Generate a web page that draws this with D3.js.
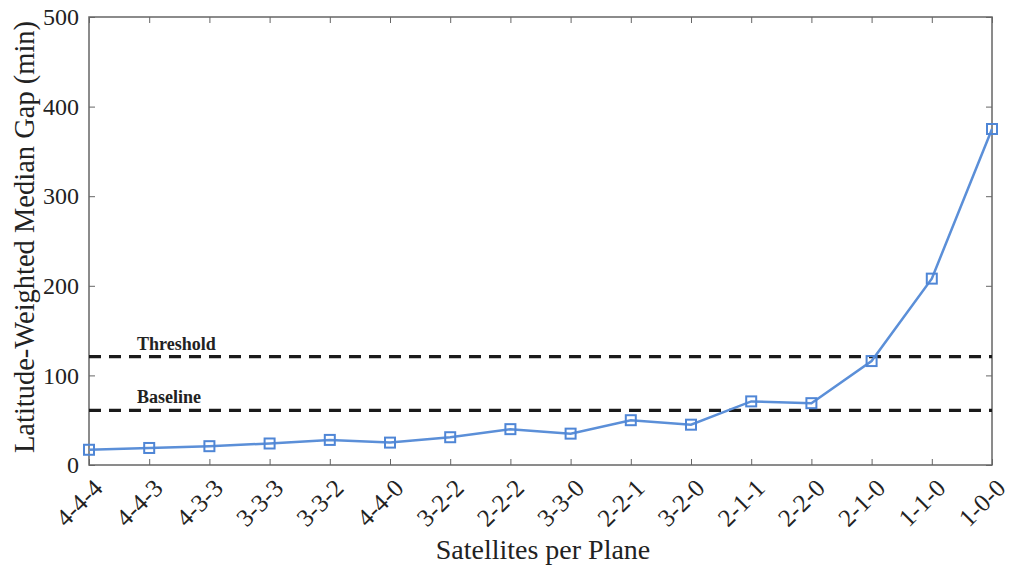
<!DOCTYPE html>
<html><head><meta charset="utf-8">
<script src="https://cdn.jsdelivr.net/npm/d3@7"></script>
<style>body{margin:0;background:#fff}svg{display:block}</style>
</head><body><div id="chart"></div>
<script>
const categories = ["4-4-4","4-4-3","4-3-3","3-3-3","3-3-2","4-4-0","3-2-2","2-2-2","3-3-0","2-2-1","3-2-0","2-1-1","2-2-0","2-1-0","1-1-0","1-0-0"];
const gapValues = [17,19,21,24,28,25,31,40,35,50,45,71,69,116,208,375];
const yTicks = [0,100,200,300,400,500];
const refLines = [{name:"Threshold", value:121},{name:"Baseline", value:61}];

const FONT='"Liberation Serif", "Times New Roman", serif';
const W=1010,H=569;
const m={left:89,right:18,top:17,bottom:104};
const svg=d3.select("#chart").append("svg").attr("width",W).attr("height",H)
  .attr("font-family",FONT);
const x=d3.scalePoint().domain(categories).range([m.left,W-m.right]);
const y=d3.scaleLinear().domain([0,500]).range([H-m.bottom,m.top]);
const axisColor="#666";
const textColor="#222";

svg.append("rect").attr("x",m.left).attr("y",m.top).attr("width",W-m.right-m.left).attr("height",H-m.bottom-m.top)
  .attr("fill","none").attr("stroke",axisColor).attr("stroke-width",1.5);

const gx=svg.append("g").attr("transform",`translate(0,${H-m.bottom})`)
  .call(d3.axisBottom(x).tickSizeInner(-6).tickSizeOuter(0).tickPadding(12));
gx.attr("font-family",FONT);
gx.select(".domain").remove();
gx.selectAll("line").attr("stroke",axisColor);
gx.selectAll("text").attr("font-size",25).attr("fill",textColor).attr("text-anchor","end")
  .attr("transform","translate(0,10) rotate(-45)").attr("dy","0.35em").attr("dx","0");
const gxt=svg.append("g").attr("transform",`translate(0,${m.top})`)
  .call(d3.axisTop(x).tickSizeInner(-6).tickSizeOuter(0).tickFormat(""));
gxt.select(".domain").remove(); gxt.selectAll("line").attr("stroke",axisColor);

const gy=svg.append("g").attr("transform",`translate(${m.left},0)`)
  .call(d3.axisLeft(y).tickValues(yTicks).tickSizeInner(-6).tickSizeOuter(0).tickPadding(10));
gy.attr("font-family",FONT);
gy.select(".domain").remove();
gy.selectAll("line").attr("stroke",axisColor);
gy.selectAll("text").attr("font-size",24).attr("fill",textColor);
const gyr=svg.append("g").attr("transform",`translate(${W-m.right},0)`)
  .call(d3.axisRight(y).tickValues(yTicks).tickSizeInner(-6).tickSizeOuter(0).tickFormat(""));
gyr.select(".domain").remove(); gyr.selectAll("line").attr("stroke",axisColor);

refLines.forEach(r=>{
  svg.append("line").attr("x1",m.left).attr("x2",W-m.right).attr("y1",y(r.value)).attr("y2",y(r.value))
    .attr("stroke","#1a1a1a").attr("stroke-width",3.2).attr("stroke-dasharray","12,8");
  svg.append("text").attr("x",137).attr("y",y(r.value)-7).attr("font-size",18).attr("font-weight","bold")
    .attr("fill",textColor).text(r.name);
});

svg.append("path").datum(gapValues).attr("fill","none").attr("stroke","#5b8fd8").attr("stroke-width",2.5)
  .attr("d",d3.line().x((d,i)=>x(categories[i])).y(d=>y(d)));
svg.selectAll("rect.mk").data(gapValues).join("rect").attr("class","mk")
  .attr("x",(d,i)=>x(categories[i])-5).attr("y",d=>y(d)-5).attr("width",10).attr("height",10)
  .attr("fill","none").attr("stroke","#4f86d6").attr("stroke-width",2);

svg.append("text").attr("x",543).attr("y",559).attr("text-anchor","middle").attr("font-size",28)
  .attr("fill",textColor).text("Satellites per Plane");
svg.append("text").attr("transform",`translate(34,${(m.top+H-m.bottom)/2-4}) rotate(-90)`).attr("text-anchor","middle")
  .attr("font-size",28.5).attr("fill",textColor).text("Latitude-Weighted Median Gap (min)");
</script></body></html>
